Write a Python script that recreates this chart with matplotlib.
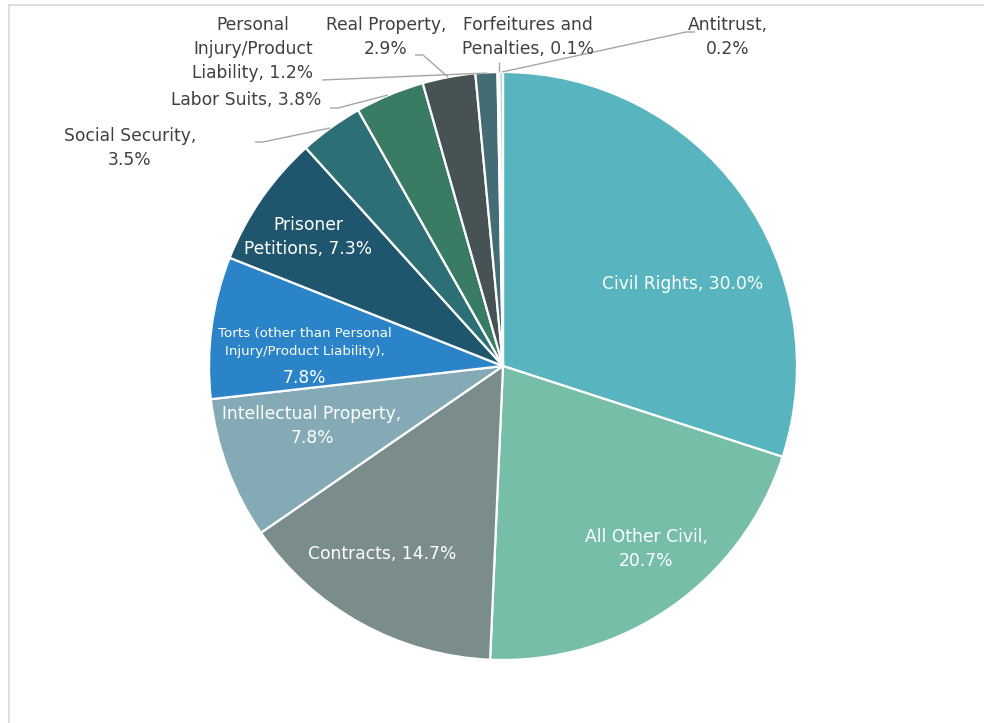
import matplotlib
matplotlib.use("Agg")
import matplotlib.pyplot as plt
from matplotlib.lines import Line2D

categories = ["Civil Rights", "All Other Civil", "Contracts", "Intellectual Property",
              "Torts (other than Personal Injury/Product Liability)", "Prisoner Petitions",
              "Social Security", "Labor Suits", "Real Property",
              "Personal Injury/Product Liability", "Forfeitures and Penalties", "Antitrust"]
shares = [30.0, 20.7, 14.7, 7.8, 7.8, 7.3, 3.5, 3.8, 2.9, 1.2, 0.1, 0.2]
colors = ["#58B5C0", "#76BEA8", "#7A8C8C", "#84ABB5", "#2B84C8", "#1F566E",
          "#2C6F75", "#3A7B64", "#475254", "#446C75", "#5E8A95", "#A9D4DA"]

W, H = 984, 723
fig = plt.figure(figsize=(W / 100, H / 100), dpi=100)
ax = fig.add_axes([0, 0, 1, 1])
FONT = "DejaVu Sans"

cx, cy, R = 503, 366, 294
ax.pie(shares, colors=colors, startangle=90, counterclock=False,
       center=(cx, H - cy), radius=R,
       wedgeprops=dict(edgecolor="white", linewidth=1.6))
ax.set_xlim(0, W)
ax.set_ylim(0, H)
ax.set_aspect("equal")
ax.axis("off")

def P(x, y):
    return x, H - y

dark = "#404040"
fs = 12.3

def label(x, y, text, color=dark, size=fs, ls=1.4):
    ax.text(*P(x, y), text, ha="center", va="center", color=color,
            fontsize=size, family=FONT, linespacing=ls)

# outside labels
label(728, 37, "Antitrust,\n0.2%")
label(528, 37, "Forfeitures and\nPenalties, 0.1%")
label(386, 37, "Real Property,\n2.9%")
label(253, 49, "Personal\nInjury/Product\nLiability, 1.2%")
label(246, 100, "Labor Suits, 3.8%")
label(130, 148, "Social Security,\n3.5%")

# inside labels
w = "white"
label(683, 284, "Civil Rights, 30.0%", w)
label(646, 549, "All Other Civil,\n20.7%", w)
label(382, 554, "Contracts, 14.7%", w)
label(312, 426, "Intellectual Property,\n7.8%", w)
label(305, 342, "Torts (other than Personal\nInjury/Product Liability),", w, size=9.6, ls=1.5)
label(304, 378, "7.8%", w)
label(308, 237, "Prisoner\nPetitions, 7.3%", w)

# leader lines
lc = "#A6A6A6"
leaders = [
    [(695, 32), (686, 32), (502, 72)],
    [(499, 62), (499, 72)],
    [(415, 55), (423, 55), (448, 77)],
    [(322, 80), (487, 73)],
    [(330, 108), (338, 108), (388, 95)],
    [(255, 142), (263, 142), (330, 128)],
]
for pts in leaders:
    xs = [p[0] for p in pts]
    ys = [H - p[1] for p in pts]
    ax.plot(xs, ys, color=lc, lw=1.0, solid_capstyle="butt")

# chart area border (top and left)
fig.add_artist(Line2D([9 / W, 1], [1 - 5 / H, 1 - 5 / H], color="#D9D9D9", lw=1.2))
fig.add_artist(Line2D([9 / W, 9 / W], [0, 1 - 5 / H], color="#D9D9D9", lw=1.2))

fig.savefig("out.png", dpi=100)
